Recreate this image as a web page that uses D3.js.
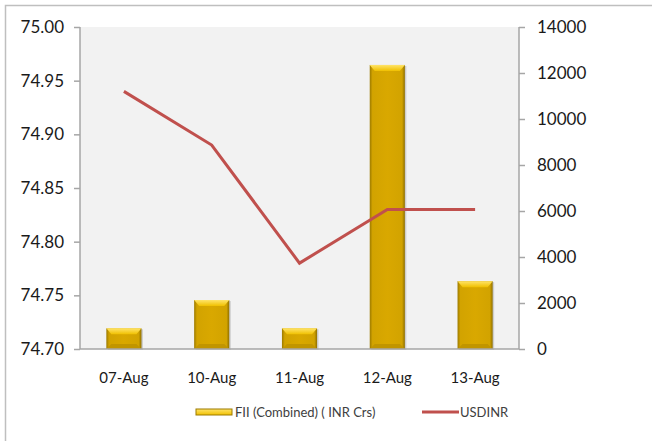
<!DOCTYPE html>
<html><head><meta charset="utf-8">
<script src="https://cdn.jsdelivr.net/npm/d3@7"></script>
<style>body{margin:0;background:#fff}svg{display:block}</style>
</head><body><svg id="c" width="652" height="441"></svg>
<script>
const categories = ["07-Aug","10-Aug","11-Aug","12-Aug","13-Aug"];
const fiiValues = [900, 2130, 900, 12350, 2950];
const usdinrValues = [74.94, 74.89, 74.78, 74.83, 74.83];
const leftTicks = [74.70,74.75,74.80,74.85,74.90,74.95,75.00];
const rightTicks = [0,2000,4000,6000,8000,10000,12000,14000];
const seriesNames = ["FII (Combined) ( INR Crs)","USDINR"];

const svg = d3.select("#c");
const font = "Lato, 'Open Sans', sans-serif";
const M = {l:80, r:519, t:27, b:349};

svg.append("rect").attr("x",5.5).attr("y",5.5).attr("width",700).attr("height",500)
  .attr("fill","#fff").attr("stroke","#bfbfbf").attr("stroke-width",1.5);

const defs = svg.append("defs");
const g1 = defs.append("linearGradient").attr("id","barH").attr("x1",0).attr("x2",1).attr("y1",0).attr("y2",0);
[[0,"#9c7a00"],[0.08,"#d2a300"],[0.5,"#d9a800"],[0.92,"#d2a300"],[1,"#8f7000"]].forEach(s=>g1.append("stop").attr("offset",s[0]).attr("stop-color",s[1]));
const g2 = defs.append("linearGradient").attr("id","barTop").attr("x1",0).attr("x2",0).attr("y1",0).attr("y2",1);
[[0,"#ffe46a"],[1,"#f0c000"]].forEach(s=>g2.append("stop").attr("offset",s[0]).attr("stop-color",s[1]));

svg.append("rect").attr("x",M.l).attr("y",M.t).attr("width",M.r-M.l).attr("height",M.b-M.t).attr("fill","#f2f2f2");

const x = d3.scaleBand().domain(categories).range([M.l,M.r]).paddingInner(0.6).paddingOuter(0.3);
const xc = d3.scalePoint().domain(categories).range([M.l,M.r]).padding(0.5);
const yL = d3.scaleLinear().domain([74.70,75.00]).range([M.b,M.t]);
const yR = d3.scaleLinear().domain([0,14000]).range([M.b,M.t]);

// bars
const bw = x.bandwidth();
const bars = svg.append("g").selectAll("g").data(categories).join("g");
bars.each(function(c,i){
  const g = d3.select(this);
  const x0 = xc(c)-bw/2, y0 = yR(fiiValues[i]), h = yR(0)-y0;
  g.append("rect").attr("x",x0+1.5).attr("y",y0+1).attr("width",bw).attr("height",h).attr("fill","#000").attr("opacity",0.15);
  g.append("rect").attr("x",x0).attr("y",y0).attr("width",bw).attr("height",h).attr("fill","url(#barH)");
  const b = 5;
  g.append("path").attr("d",`M${x0},${y0}L${x0+bw},${y0}L${x0+bw-b},${y0+b+1}L${x0+b},${y0+b+1}Z`).attr("fill","url(#barTop)");
  g.append("path").attr("d",`M${x0},${y0+h}L${x0+bw},${y0+h}L${x0+bw-b},${y0+h-b}L${x0+b},${y0+h-b}Z`).attr("fill","#c19500");
});

// line
svg.append("path").datum(usdinrValues)
  .attr("d", d3.line().x((d,i)=>xc(categories[i])).y(d=>yL(d)))
  .attr("fill","none").attr("stroke","#c0504d").attr("stroke-width",3).attr("stroke-linejoin","miter");

// axes
const axisColor = "#a6a6a6";
const la = svg.append("g").attr("transform",`translate(${M.l},0)`)
  .call(d3.axisLeft(yL).tickValues(leftTicks).tickFormat(d3.format(".2f")).tickSize(6).tickPadding(8));
const ra = svg.append("g").attr("transform",`translate(${M.r},0)`)
  .call(d3.axisRight(yR).tickValues(rightTicks).tickFormat(d3.format("d")).tickSize(6).tickPadding(12));
[la,ra].forEach(a=>{
  a.select(".domain").attr("stroke",axisColor).attr("stroke-width",1.5).attr("d",`M0,${M.t}V${M.b}`);
  a.selectAll(".tick line").attr("stroke",axisColor).attr("stroke-width",1.5);
  a.selectAll("text").attr("fill","#1a1a1a").style("font-family",font).style("font-size","17px");
});
la.selectAll("text").attr("dx",-2);
svg.append("line").attr("x1",M.l).attr("x2",M.r).attr("y1",M.b).attr("y2",M.b).attr("stroke",axisColor).attr("stroke-width",1.5);

svg.append("g").selectAll("text").data(categories).join("text")
  .attr("x",d=>xc(d)).attr("y",383).attr("text-anchor","middle")
  .attr("fill","#1a1a1a").style("font-family",font).style("font-size","15px").text(d=>d);

// legend
const lg = svg.append("g").style("font-family",font).style("font-size","13px");
lg.append("rect").attr("x",196).attr("y",409).attr("width",36).attr("height",6).attr("fill","url(#barTop)").attr("stroke","#9c7a00").attr("stroke-width",1);
lg.append("text").attr("x",235).attr("y",417).attr("fill","#404040").text(seriesNames[0]);
lg.append("line").attr("x1",422).attr("x2",459).attr("y1",412).attr("y2",412).attr("stroke","#c0504d").attr("stroke-width",3);
lg.append("text").attr("x",460).attr("y",417).attr("fill","#404040").text(seriesNames[1]);
</script></body></html>
